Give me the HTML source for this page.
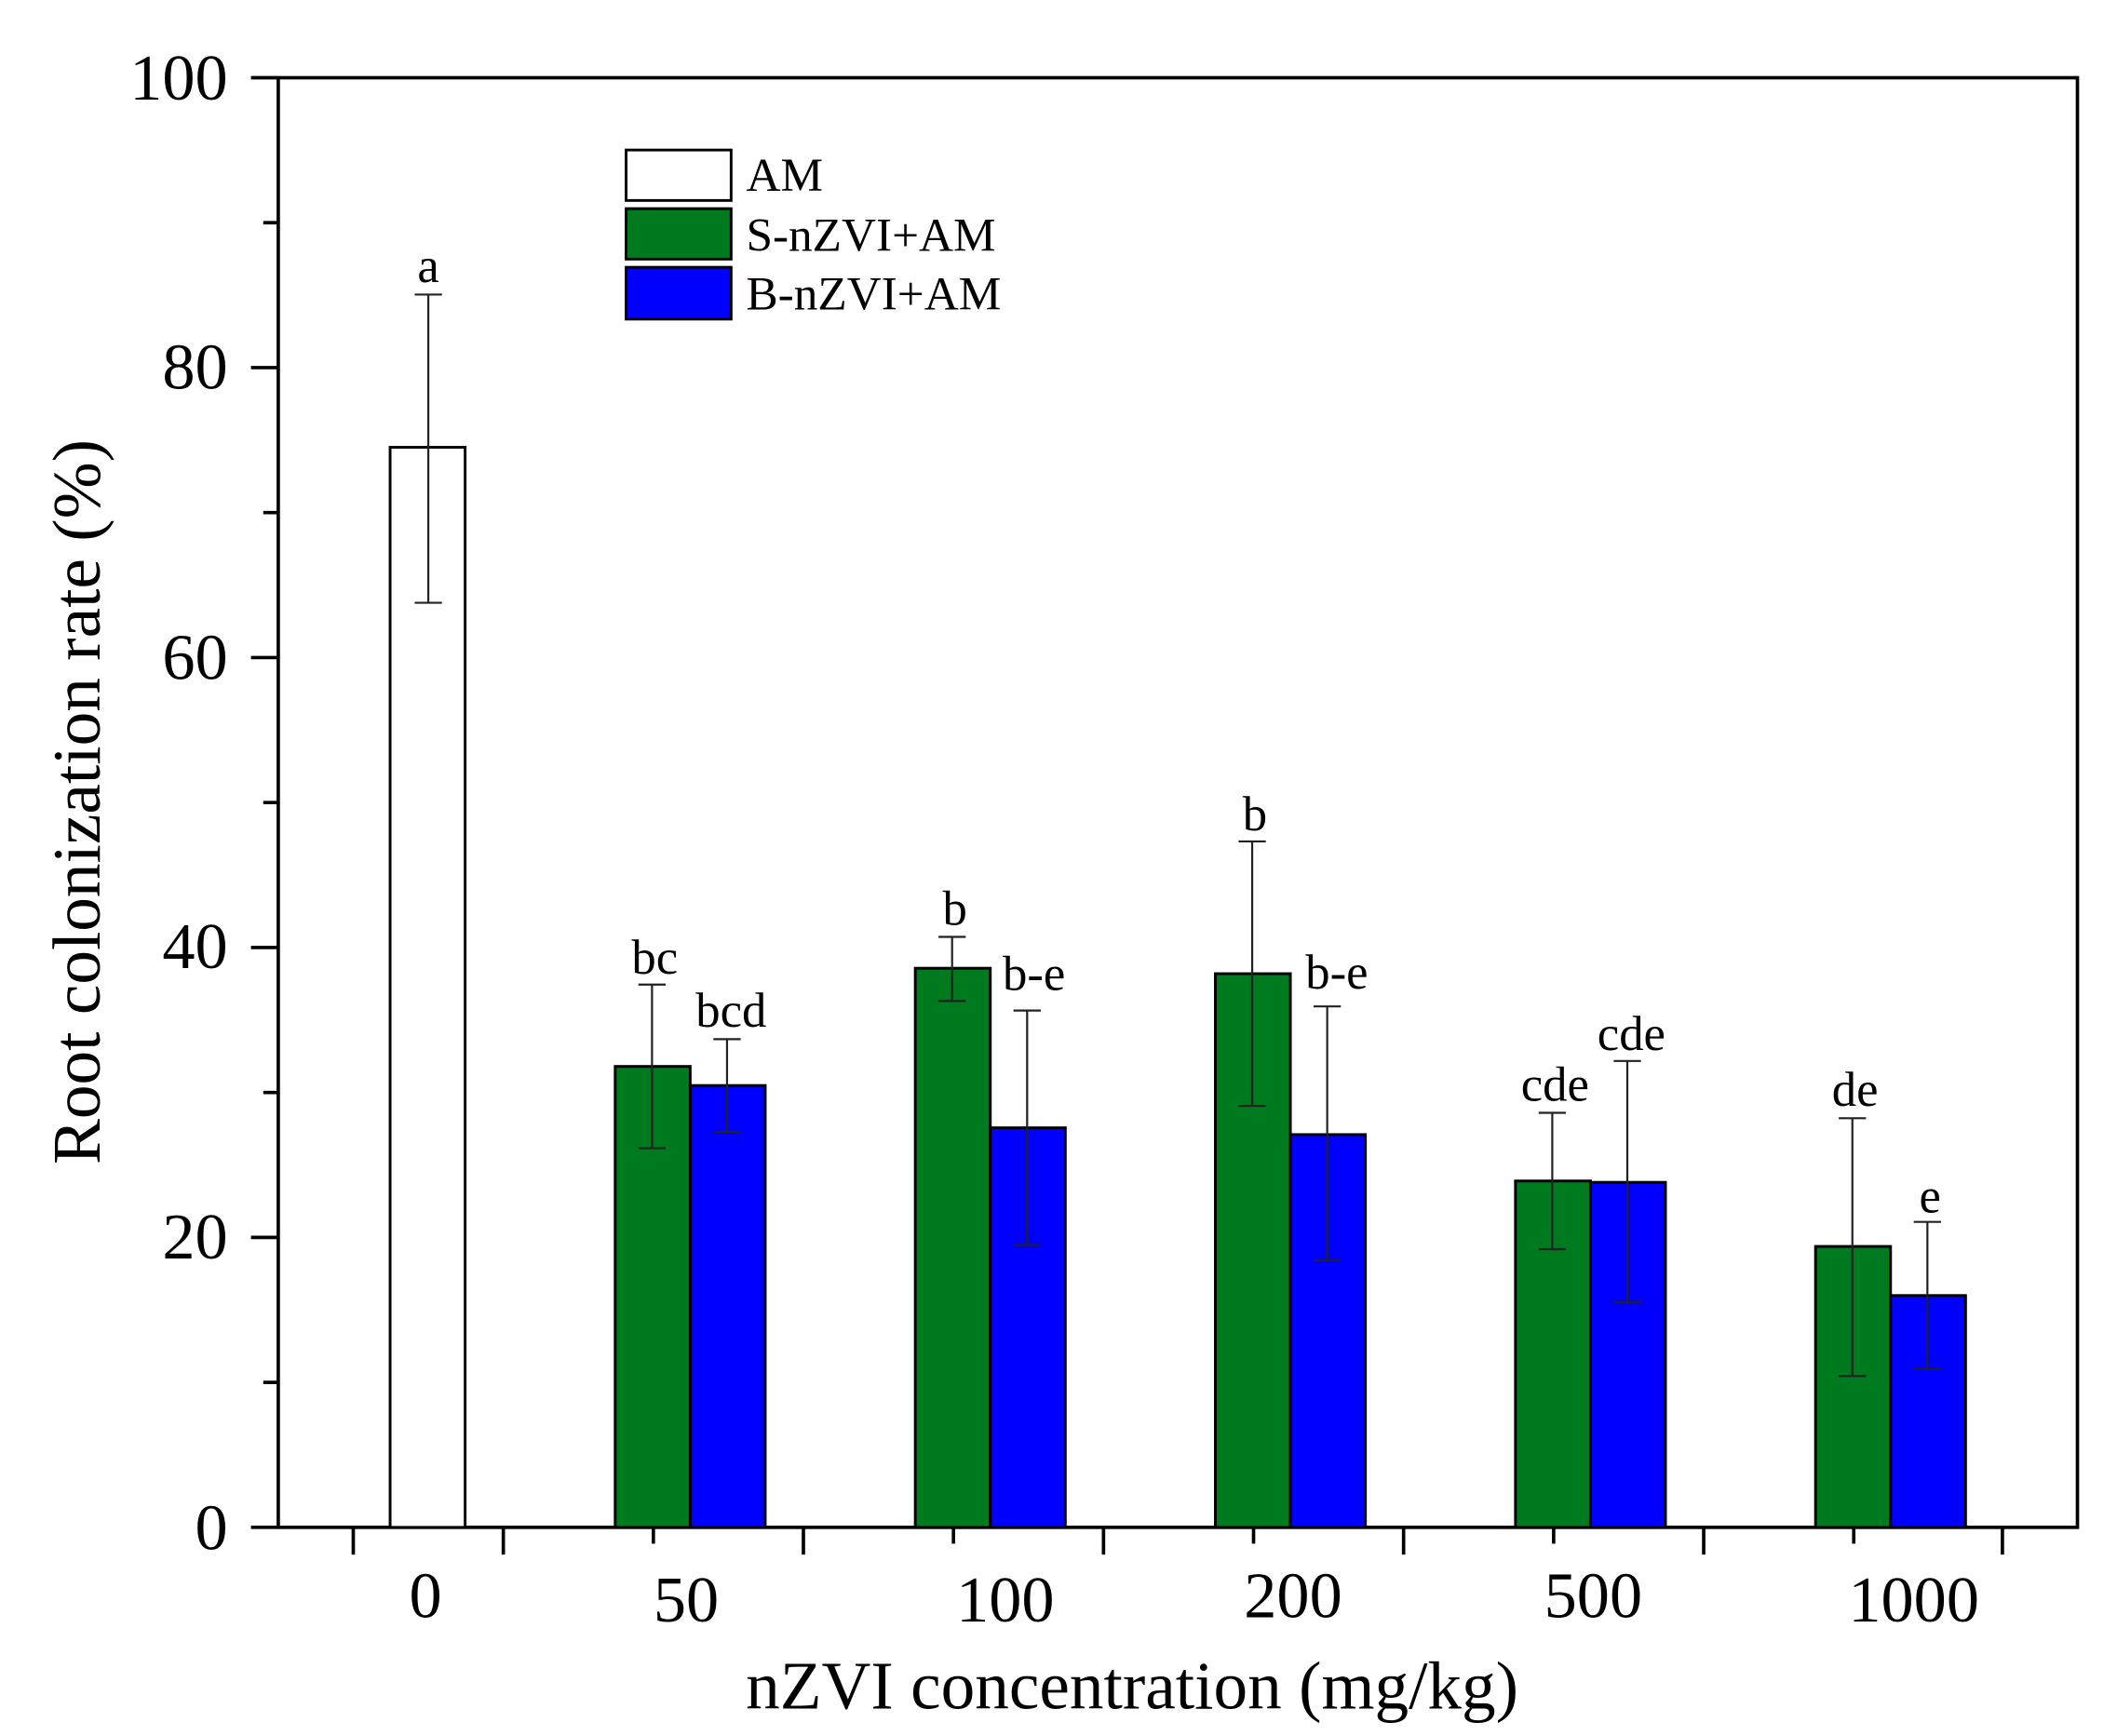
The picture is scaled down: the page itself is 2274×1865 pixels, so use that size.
<!DOCTYPE html>
<html><head><meta charset="utf-8"><style>html,body{margin:0;padding:0;background:#fff}svg{display:block}</style></head><body>
<svg width="2274" height="1865" viewBox="0 0 1552 1273" preserveAspectRatio="none" xmlns="http://www.w3.org/2000/svg" font-family="Liberation Serif, serif">
<rect width="1552" height="1273" fill="#fff"/>
<g stroke="#000" stroke-width="2.5" fill="none">
<rect x="204" y="57" width="1319" height="1063"/>
<path d="M184 1120H204M184 907.4H204M184 694.8H204M184 482.2H204M184 269.6H204M184 57H204"/>
<path d="M193 1013.7H204M193 801.1H204M193 588.5H204M193 375.9H204M193 163.3H204"/>
<path d="M259 1120V1140M369 1120V1140M589 1120V1140M809 1120V1140M1029 1120V1140M1249 1120V1140M1468 1120V1140"/>
<path d="M479 1120V1132M699 1120V1132M919 1120V1132M1139 1120V1132M1359 1120V1132"/>
</g>
<g font-size="48" text-anchor="end">
<text x="167" y="1136">0</text><text x="167" y="923">20</text><text x="167" y="710">40</text>
<text x="167" y="498">60</text><text x="167" y="285">80</text><text x="167" y="73">100</text>
</g>
<g font-size="48" text-anchor="middle">
<text x="312" y="1186">0</text><text x="503" y="1189">50</text><text x="737" y="1189">100</text>
<text x="948" y="1186">200</text><text x="1168" y="1186">500</text><text x="1403" y="1189">1000</text>
<text x="830" y="1253" font-size="50">nZVI concentration (mg/kg)</text>
<text transform="translate(73,588) rotate(-90)" font-size="50">Root colonization rate (%)</text>
</g>
<g stroke="#000" stroke-width="2">
<rect x="286" y="328" width="55" height="792" fill="#fff"/>
<rect x="451" y="782" width="55" height="338" fill="#007a1e"/>
<rect x="506" y="796" width="55" height="324" fill="#0000ff"/>
<rect x="671" y="710" width="55" height="410" fill="#007a1e"/>
<rect x="726" y="827" width="55" height="293" fill="#0000ff"/>
<rect x="891" y="714" width="55" height="406" fill="#007a1e"/>
<rect x="946" y="832" width="55" height="288" fill="#0000ff"/>
<rect x="1111" y="866" width="55" height="254" fill="#007a1e"/>
<rect x="1166" y="867" width="55" height="253" fill="#0000ff"/>
<rect x="1331" y="914" width="55" height="206" fill="#007a1e"/>
<rect x="1386" y="950" width="55" height="170" fill="#0000ff"/>
</g>
<g stroke="#222" stroke-width="1.5" fill="none">
<path d="M314 216V442M304 216H324M304 442H324"/>
<path d="M478 722V842M468 722H488M468 842H488"/>
<path d="M533 762V830M523 762H543M523 830H543"/>
<path d="M698 687V734M688 687H708M688 734H708"/>
<path d="M753 741V913M743 741H763M743 913H763"/>
<path d="M918 617V811M908 617H928M908 811H928"/>
<path d="M973 738V924M963 738H983M963 924H983"/>
<path d="M1138 816V916M1128 816H1148M1128 916H1148"/>
<path d="M1193 778V955M1183 778H1203M1183 955H1203"/>
<path d="M1358 820V1009M1348 820H1368M1348 1009H1368"/>
<path d="M1413 896V1004M1403 896H1423M1403 1004H1423"/>
</g>
<g font-size="36" text-anchor="middle">
<text x="314" y="207">a</text><text x="480" y="714">bc</text><text x="536" y="753">bcd</text>
<text x="700" y="678">b</text><text x="758" y="726">b-e</text><text x="920" y="609">b</text>
<text x="980" y="725">b-e</text><text x="1140" y="807">cde</text><text x="1196" y="770">cde</text>
<text x="1360" y="811">de</text><text x="1415" y="889">e</text>
</g>
<g stroke="#000" stroke-width="2">
<rect x="459" y="110" width="77" height="37" fill="#fff"/>
<rect x="459" y="153" width="77" height="37" fill="#007a1e"/>
<rect x="459" y="196" width="77" height="38" fill="#0000ff"/>
</g>
<g font-size="35">
<text x="547" y="140">AM</text><text x="547" y="184">S-nZVI+AM</text><text x="547" y="227">B-nZVI+AM</text>
</g>
</svg>
</body></html>
